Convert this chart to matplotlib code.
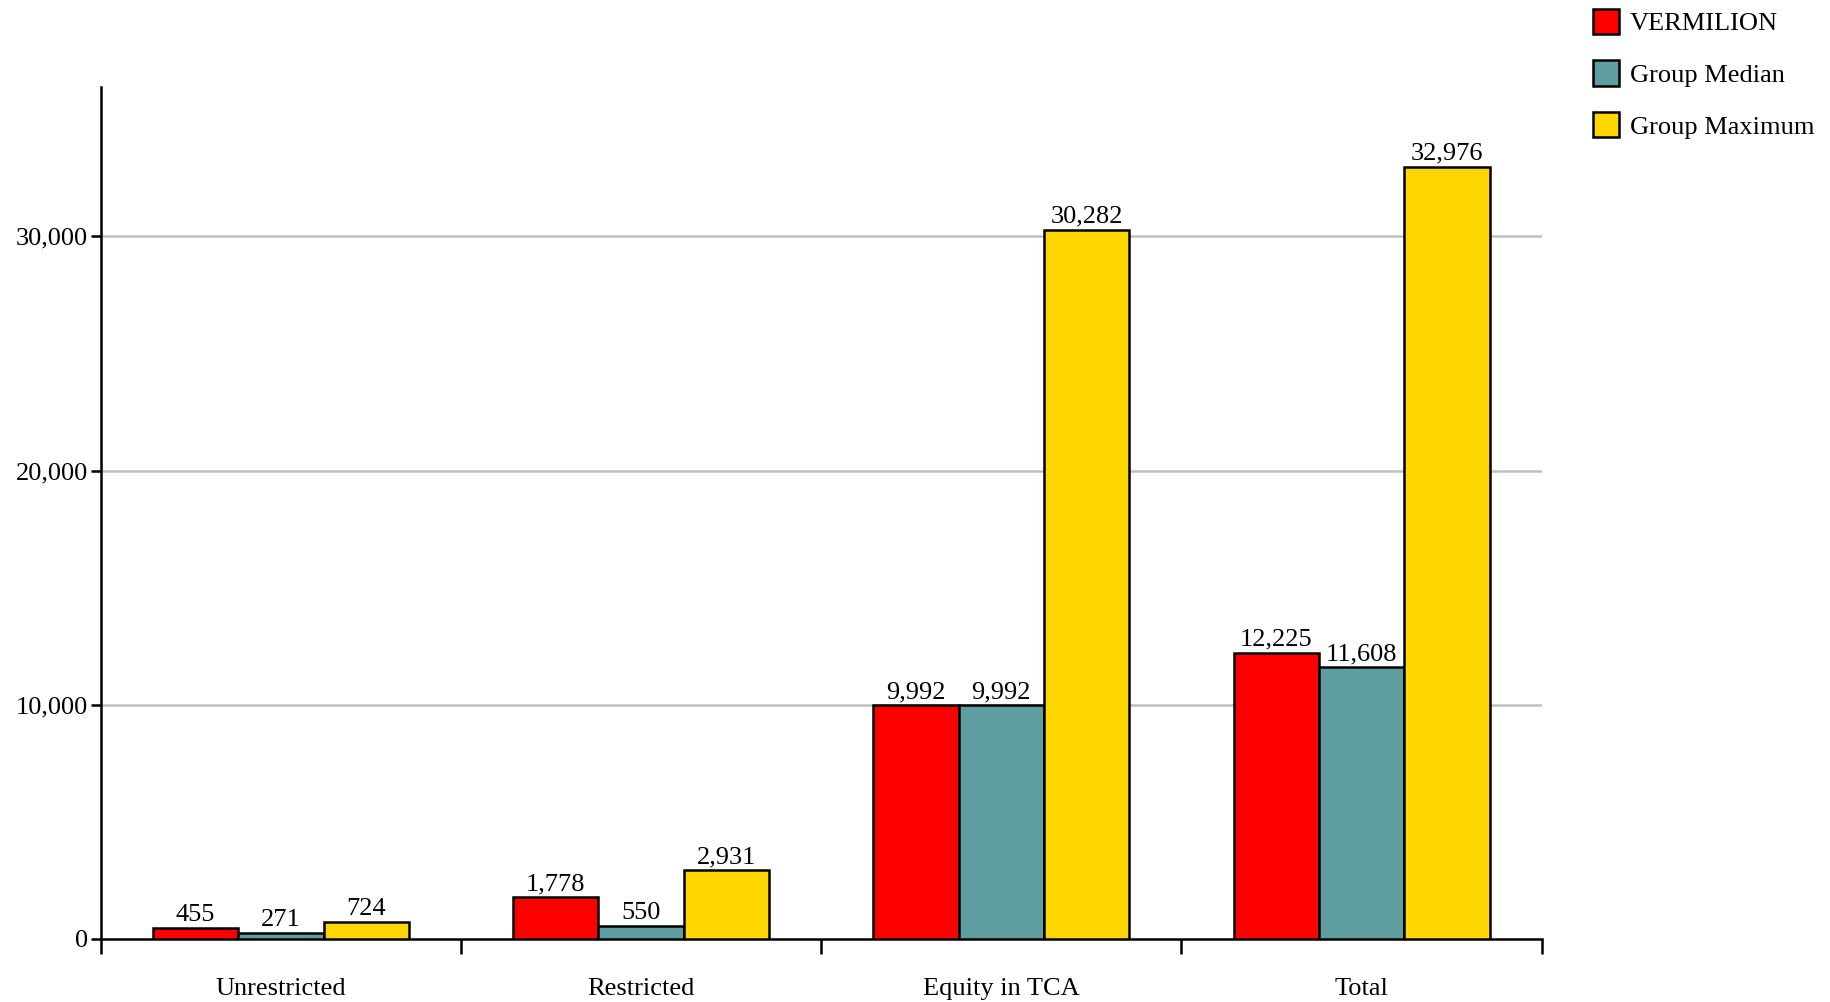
import matplotlib
matplotlib.use("Agg")
import matplotlib.pyplot as plt
import numpy as np

plt.rcParams['font.family'] = ['Liberation Serif', 'DejaVu Serif']

categories = ["Unrestricted", "Restricted", "Equity in TCA", "Total"]
series_names = ["VERMILION", "Group Median", "Group Maximum"]
vermilion = [455, 1778, 9992, 12225]
median = [271, 550, 9992, 11608]
maximum = [724, 2931, 30282, 32976]
colors = ["#ff0000", "#5f9ea0", "#ffd700"]

fig = plt.figure(figsize=(18.31, 10.02), dpi=100)
ax = fig.add_axes([0.055, 0.063, 0.787, 0.85])

x = np.arange(len(categories))
w = 0.237
for i, (vals, name, c) in enumerate(zip([vermilion, median, maximum], series_names, colors)):
    pos = x + (i - 1) * w
    ax.bar(pos, vals, w, color=c, edgecolor="black", linewidth=1.8, label=name, zorder=3)
    for p, v in zip(pos, vals):
        ax.text(p, v + 80, f"{v:,}", ha="center", va="bottom", fontsize=19)

ax.set_xlim(-0.5, 3.5)
ax.set_ylim(0, 36370)
ax.set_yticks([0, 10000, 20000, 30000])
ax.set_yticklabels(["0", "10,000", "20,000", "30,000"], fontsize=19)
for yv in [10000, 20000, 30000]:
    ax.axhline(yv, color="#c0c0c0", linewidth=1.8, zorder=1)

ax.set_xticks(x)
ax.set_xticklabels(categories, fontsize=19)
ax.tick_params(axis="x", length=0, pad=28)
ax.set_xticks(np.arange(-0.5, 4.0, 1.0), minor=True)
ax.tick_params(axis="x", which="minor", length=11, width=1.8, direction="out")
ax.tick_params(axis="y", length=7, width=1.8, direction="out", pad=2)

for s in ["top", "right"]:
    ax.spines[s].set_visible(False)
for s in ["left", "bottom"]:
    ax.spines[s].set_linewidth(1.8)

leg = fig.legend(loc="upper left", bbox_to_anchor=(0.857, 1.015), frameon=False,
                 fontsize=19, handlelength=1.0, handleheight=1.1,
                 labelspacing=0.95, handletextpad=0.4)
for h in leg.legend_handles:
    h.set_edgecolor("black")
    h.set_linewidth(1.8)

fig.savefig("out.png", dpi=100)
